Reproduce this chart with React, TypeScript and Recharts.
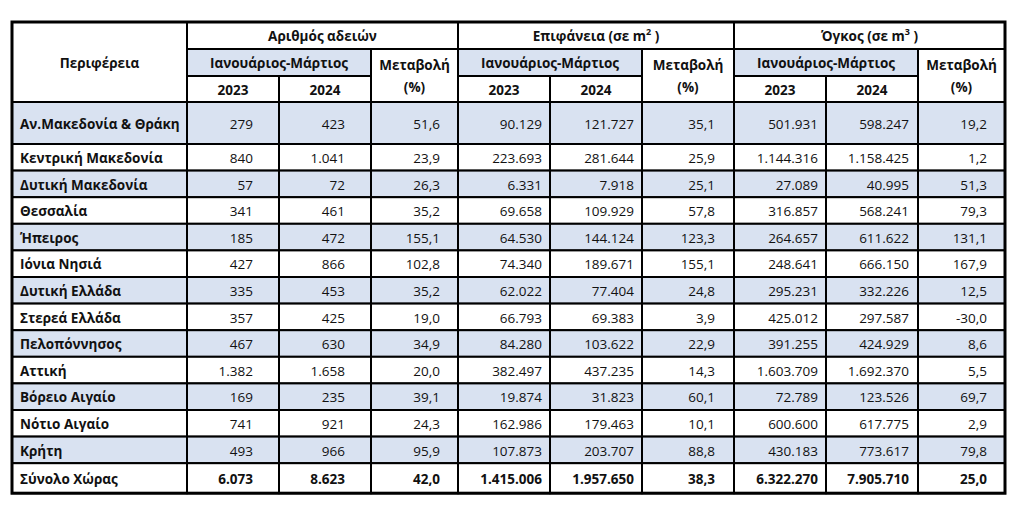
import { ScatterChart, Scatter, XAxis, YAxis } from "recharts";

const REGIONS = [
  "Αν.Μακεδονία & Θράκη",
  "Κεντρική Μακεδονία",
  "Δυτική Μακεδονία",
  "Θεσσαλία",
  "Ήπειρος",
  "Ιόνια Νησιά",
  "Δυτική Ελλάδα",
  "Στερεά Ελλάδα",
  "Πελοπόννησος",
  "Αττική",
  "Βόρειο Αιγαίο",
  "Νότιο Αιγαίο",
  "Κρήτη",
  "Σύνολο Χώρας",
];

const PERMITS_2023 = [279, 840, 57, 341, 185, 427, 335, 357, 467, 1382, 169, 741, 493, 6073];
const PERMITS_2024 = [423, 1041, 72, 461, 472, 866, 453, 425, 630, 1658, 235, 921, 966, 8623];
const PERMITS_CHG = [51.6, 23.9, 26.3, 35.2, 155.1, 102.8, 35.2, 19.0, 34.9, 20.0, 39.1, 24.3, 95.9, 42.0];

const AREA_2023 = [90129, 223693, 6331, 69658, 64530, 74340, 62022, 66793, 84280, 382497, 19874, 162986, 107873, 1415006];
const AREA_2024 = [121727, 281644, 7918, 109929, 144124, 189671, 77404, 69383, 103622, 437235, 31823, 179463, 203707, 1957650];
const AREA_CHG = [35.1, 25.9, 25.1, 57.8, 123.3, 155.1, 24.8, 3.9, 22.9, 14.3, 60.1, 10.1, 88.8, 38.3];

const VOL_2023 = [501931, 1144316, 27089, 316857, 264657, 248641, 295231, 425012, 391255, 1603709, 72789, 600600, 430183, 6322270];
const VOL_2024 = [598247, 1158425, 40995, 568241, 611622, 666150, 332226, 297587, 424929, 1692370, 123526, 617775, 773617, 7905710];
const VOL_CHG = [19.2, 1.2, 51.3, 79.3, 131.1, 167.9, 12.5, -30.0, 8.6, 5.5, 69.7, 2.9, 79.8, 25.0];

const PERIOD = "Ιανουάριος-Μάρτιος";
const YEARS = ["2023", "2024"];

// layout
const W = 1010;
const H = 506;
const LEFT = 12;
const TOP = 22;
const COL_W = [175, 92, 92, 87, 92, 92, 92, 92, 92, 87];
const PAD = [8, 26, 26, 18, 8, 8, 19, 8, 9, 18];
const HEAD_H = [27, 27, 26];
const DATA_H = [42, 26.6, 26.6, 26.6, 26.6, 26.6, 26.6, 26.6, 26.6, 26.6, 26.6, 26.6, 26.6, 30];
const ROW_H = [...HEAD_H, ...DATA_H];
const BLUE = "#d9e2f1";
const FONT = "'Open Sans', sans-serif";
const FS = 13.5;

const fmtInt = (n: number) => String(Math.round(n)).replace(/\B(?=(\d{3})+(?!\d))/g, ".");
const fmtPct = (n: number) => n.toFixed(1).replace(".", ",");

type Cell = {
  x: number;
  y: number;
  w: number;
  h: number;
  fill: string;
  lines: string[];
  sup?: string;
  align: "start" | "middle" | "end";
  pad: number;
  bold: boolean;
};

const colX = (c: number) => LEFT + COL_W.slice(0, c).reduce((a, b) => a + b, 0);
const rowY = (r: number) => TOP + ROW_H.slice(0, r).reduce((a, b) => a + b, 0);

function span(c0: number, c1: number, r0: number, r1: number, rest: Partial<Cell>): Cell {
  const x0 = colX(c0);
  const x1 = colX(c1);
  const y0 = rowY(r0);
  const y1 = rowY(r1);
  return {
    x: (x0 + x1) / 2,
    y: (y0 + y1) / 2,
    w: x1 - x0,
    h: y1 - y0,
    fill: "#ffffff",
    lines: [],
    align: "middle",
    pad: 0,
    bold: true,
    ...rest,
  };
}

const headerCells: Cell[] = [
  span(0, 1, 0, 3, { lines: ["Περιφέρεια"] }),
  span(1, 4, 0, 1, { lines: ["Αριθμός αδειών"] }),
  span(4, 7, 0, 1, { lines: ["Επιφάνεια (σε m"], sup: "2" }),
  span(7, 10, 0, 1, { lines: ["Όγκος (σε m"], sup: "3" }),
];
[1, 4, 7].forEach((c) => {
  headerCells.push(span(c, c + 2, 1, 2, { lines: [PERIOD], fill: BLUE }));
  headerCells.push(span(c, c + 1, 2, 3, { lines: [YEARS[0]] }));
  headerCells.push(span(c + 1, c + 2, 2, 3, { lines: [YEARS[1]] }));
  headerCells.push(span(c + 2, c + 3, 1, 3, { lines: ["Μεταβολή", "(%)"] }));
});

const columns: string[][] = [
  REGIONS,
  PERMITS_2023.map(fmtInt),
  PERMITS_2024.map(fmtInt),
  PERMITS_CHG.map(fmtPct),
  AREA_2023.map(fmtInt),
  AREA_2024.map(fmtInt),
  AREA_CHG.map(fmtPct),
  VOL_2023.map(fmtInt),
  VOL_2024.map(fmtInt),
  VOL_CHG.map(fmtPct),
];

const bodyCells: Cell[] = [];
REGIONS.forEach((_, i) => {
  const last = i === REGIONS.length - 1;
  const fill = i % 2 === 0 ? BLUE : "#ffffff";
  columns.forEach((col, c) => {
    bodyCells.push(
      span(c, c + 1, i + 3, i + 4, {
        lines: [col[i]],
        fill: last ? "#ffffff" : fill,
        align: c === 0 ? "start" : "end",
        pad: PAD[c],
        bold: c === 0 || last,
      })
    );
  });
});

const frame: Cell[] = [span(0, 10, 0, ROW_H.length, { fill: "none" })];

const CellShape = (props: any) => {
  const { cx, cy, payload } = props;
  const c = payload as Cell;
  const x0 = cx - c.w / 2;
  const y0 = cy - c.h / 2;
  const tx = c.align === "start" ? x0 + c.pad : c.align === "end" ? x0 + c.w - c.pad : cx;
  const lh = 22;
  const first = cy - ((c.lines.length - 1) * lh) / 2;
  return (
    <g>
      <rect x={x0} y={y0} width={c.w} height={c.h} fill={c.fill} stroke="#000" strokeWidth={c.fill === "none" ? 3 : 2} />
      {c.lines.map((t, k) => (
        <text
          key={k}
          x={tx}
          y={first + k * lh + 1}
          dy="0.35em"
          textAnchor={c.align}
          fontFamily={FONT}
          fontSize={FS}
          fontWeight={c.bold ? 700 : 400}
          fill="#111"
        >
          {t}
          {c.sup ? (
            <>
              <tspan dy={-6} fontSize={9}>
                {c.sup}
              </tspan>
              <tspan dy={6}> )</tspan>
            </>
          ) : null}
        </text>
      ))}
    </g>
  );
};

export default function App() {
  return (
    <div style={{ position: "absolute", left: 0, top: 0, background: "#fff" }}>
      <ScatterChart width={W} height={H} margin={{ top: 0, right: 0, bottom: 0, left: 0 }}>
        <XAxis type="number" dataKey="x" domain={[0, W]} hide />
        <YAxis type="number" dataKey="y" domain={[0, H]} reversed hide />
        <Scatter data={bodyCells} shape={CellShape} isAnimationActive={false} />
        <Scatter data={headerCells} shape={CellShape} isAnimationActive={false} />
        <Scatter data={frame} shape={CellShape} isAnimationActive={false} />
      </ScatterChart>
    </div>
  );
}
